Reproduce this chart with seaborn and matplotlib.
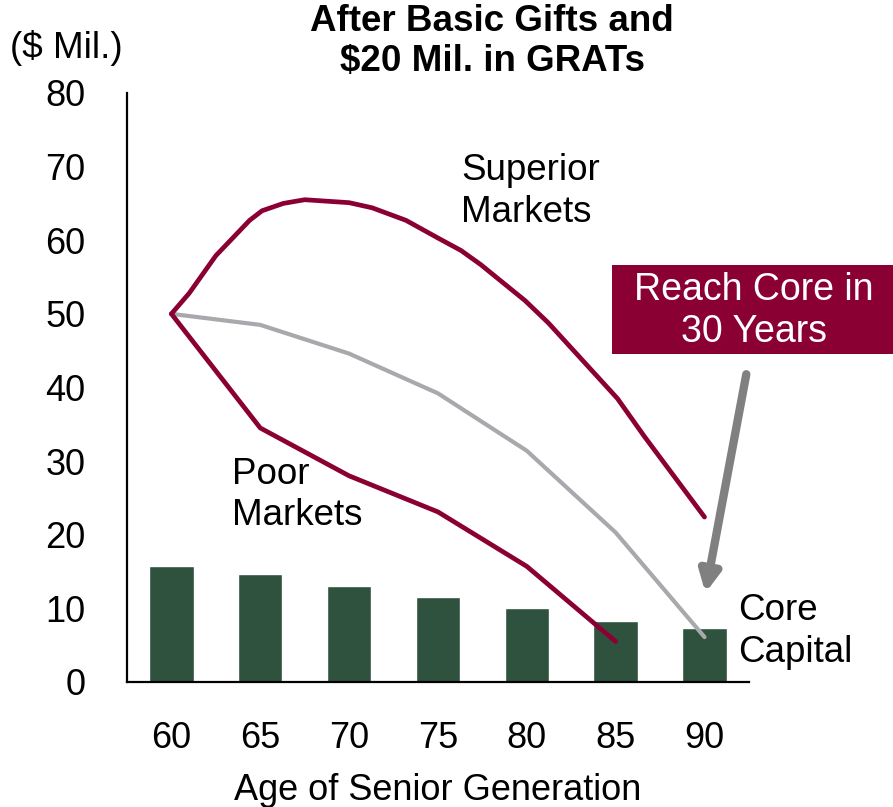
import numpy as np
import pandas as pd
import seaborn as sns
import matplotlib.pyplot as plt
from matplotlib.patches import Rectangle

# 그림에서 읽어 낸 값들
ages = [60, 65, 70, 75, 80, 85, 90]
core_capital = [15.8, 14.6, 13.1, 11.5, 10.0, 8.3, 7.4]

superior_age = [60, 61.0, 62.5, 64.4, 65.1, 66.3, 67.5, 70.0, 71.3, 73.2,
                75.0, 76.3, 77.4, 79.9, 81.2, 85.1, 86.6, 90.0]
superior_val = [50.0, 52.8, 57.9, 62.7, 64.0, 65.0, 65.5, 65.1, 64.4, 62.7,
                60.3, 58.6, 56.7, 51.8, 48.8, 38.5, 33.4, 22.4]

median_age = [60, 65, 70, 75, 80, 85, 90]
median_val = [50.0, 48.5, 44.6, 39.2, 31.4, 20.3, 6.1]

poor_age = [60, 65, 70, 75, 80, 85]
poor_val = [50.0, 34.5, 28.0, 23.1, 15.7, 5.5]

CRIMSON = '#8B0033'
GRAY = '#A7A9AC'
GREEN = '#2F523E'

sns.set_style('white')
plt.rcParams['font.family'] = ['Liberation Sans', 'DejaVu Sans']
plt.rcParams['text.color'] = 'black'
plt.rcParams['xtick.color'] = 'black'
plt.rcParams['ytick.color'] = 'black'
plt.rcParams['axes.labelcolor'] = 'black'

fig = plt.figure(figsize=(8.93, 8.07), dpi=100)
ax = fig.add_axes([0.1422, 0.1549, 0.6965, 0.7299])

df_bar = pd.DataFrame({'age': ages, 'core': core_capital})
sns.barplot(data=df_bar, x='age', y='core', native_scale=True, width=0.5,
            color=GREEN, saturation=1, ax=ax, zorder=1)

sns.lineplot(x=superior_age, y=superior_val, color=CRIMSON, lw=3.4,
             ax=ax, zorder=3, solid_capstyle='round', solid_joinstyle='round')
sns.lineplot(x=median_age, y=median_val, color=GRAY, lw=3,
             ax=ax, zorder=2, solid_capstyle='round')
sns.lineplot(x=poor_age, y=poor_val, color=CRIMSON, lw=3.4,
             ax=ax, zorder=3, solid_capstyle='round', solid_joinstyle='round')

ax.set_xlim(57.5, 92.5)
ax.set_ylim(0, 80)
ax.set_xticks(ages)
ax.set_xticklabels([str(a) for a in ages])
ax.set_yticks(range(0, 81, 10))
ax.tick_params(axis='both', length=0, labelsize=26)
ax.tick_params(axis='y', pad=30)
ax.tick_params(axis='x', pad=28)
ax.set_xlabel('Age of Senior Generation', fontsize=26, labelpad=12)
ax.set_ylabel('')
for side in ['top', 'right']:
    ax.spines[side].set_visible(False)
for side in ['left', 'bottom']:
    ax.spines[side].set_color('black')
    ax.spines[side].set_linewidth(1.6)

# 라벨 텍스트
ax.text(76.3, 71.8, 'Superior\nMarkets', fontsize=26.5, va='top', ha='left',
        linespacing=1.25)
ax.text(63.4, 30.6, 'Poor\nMarkets', fontsize=26.5, va='top', ha='left',
        linespacing=1.25)
ax.text(91.9, 12.1, 'Core\nCapital', fontsize=26.5, va='top', ha='left',
        linespacing=1.25, clip_on=False)

# 화살표
ax.annotate('', xy=(90.05, 12.1), xytext=(92.35, 41.8),
            arrowprops=dict(arrowstyle='-|>', color='#808080', lw=6,
                            mutation_scale=30, shrinkA=0, shrinkB=0),
            annotation_clip=False)

# 제목과 단위
fig.text(0.551, 0.995, 'After Basic Gifts and\n\\$20 Mil. in GRATs',
         fontsize=26.5, fontweight='bold', ha='center', va='top', linespacing=1.2)
fig.text(0.011, 0.941, '(\\$ Mil.)', fontsize=26.5, ha='left', va='center')

# 강조 박스
box_x0, box_y0 = 612 / 893, (807 - 354) / 807
box = Rectangle((box_x0, box_y0), 1 - box_x0, 89 / 807, transform=fig.transFigure,
                facecolor=CRIMSON, edgecolor='none', zorder=5)
fig.patches.append(box)
fig.text(754 / 893, (807 - 311) / 807, 'Reach Core in\n30 Years', color='white',
         fontsize=27, ha='center', va='center', linespacing=1.25, zorder=6)

plt.savefig('out.png', dpi=100)
